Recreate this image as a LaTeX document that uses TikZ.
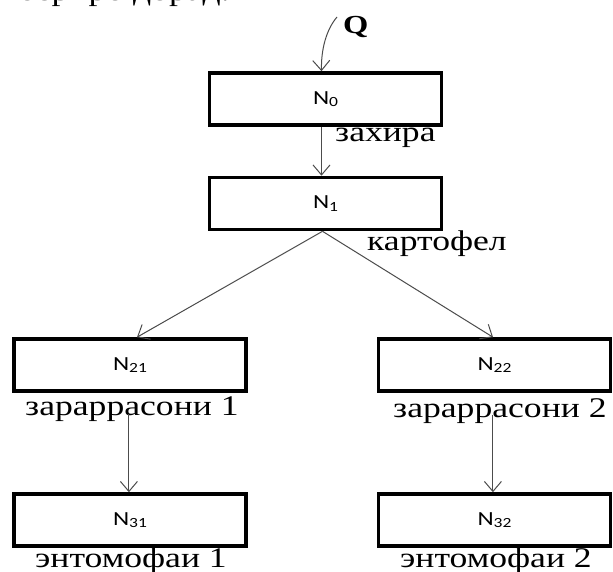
\documentclass[tikz,border=0pt]{standalone}
\usepackage{fontspec}
\setmainfont{Liberation Serif}
\newfontfamily\boxfont{Carlito}
\usetikzlibrary{arrows.meta,calc}
% text in this scheme is set slightly wide
\newcommand{\widetxt}[1]{\scalebox{1.25}[1]{#1}}
\newcommand{\nsub}[2]{\widetxt{#1\raisebox{-2.5pt}{\fontsize{14}{15}\selectfont #2}}}
\begin{document}
\begin{tikzpicture}[x=1pt,y=-1pt,
  stage/.style={draw=black,line width=3.6pt,minimum width=232pt,minimum height=52pt,
    inner sep=0pt,font=\boxfont\fontsize{20}{22}\selectfont},
  lbl/.style={inner sep=0pt,anchor=base west,font=\fontsize{28.5}{30}\selectfont},
  flow/.style={draw=black!70,line width=1pt,-{Straight Barb[length=10pt,width=17pt,line width=1pt]}}]
\clip (0,0) rectangle (613,571);
\fill[white] (0,0) rectangle (613,571);

% line of running text above the scheme
\node[lbl] (prev) at (18,0) {\widetxt{бериро дорад.}};

% input Q
\node[inner sep=0pt,anchor=base west,font=\bfseries\fontsize{26}{28}\selectfont] (q) at (343,33) {\widetxt{Q}};
\coordinate (qstart) at (337,17);

% stages
\node[stage] (n0) at (325.5,99) {\nsub{N}{0}};
\node[stage] (n1) at (325.5,203.5) {\nsub{N}{1}};
\node[stage] (n21) at (130,365) {\nsub{N}{21}};
\node[stage] (n22) at (494.5,365) {\nsub{N}{22}};
\node[stage] (n31) at (130,520) {\nsub{N}{31}};
\node[stage] (n32) at (494.5,520) {\nsub{N}{32}};

% labels
\node[lbl] (l0) at (335,141) {\widetxt{захира}};
\node[lbl] (l1) at (367,250) {\widetxt{картофел}};
\node[lbl] (l21) at (25,415) {\widetxt{зараррасони 1}};
\node[lbl] (l22) at (393,417) {\widetxt{зараррасони 2}};
\node[lbl] (l31) at (35,567) {\widetxt{энтомофаи 1}};
\node[lbl] (l32) at (400,567) {\widetxt{энтомофаи 2}};

% connectors
\draw[flow] (qstart) .. controls (326,30) and (321,50) .. ([xshift=-4pt]n0.north);
\draw[flow] ([xshift=-4pt]n0.south) -- ([xshift=-4pt]n1.north);
\draw[flow] ([xshift=-3pt]n1.south) -- ([xshift=7pt]n21.north);
\draw[flow] ([xshift=-3pt]n1.south) -- ([xshift=-1.5pt]n22.north);
\draw[flow] ([xshift=-3pt,yshift=7pt]l21.south) -- ([xshift=-3pt]l21.south |- n31.north);
\draw[flow] ([xshift=-7pt,yshift=8pt]l22.south) -- ([xshift=-7pt]l22.south |- n32.north);
\end{tikzpicture}
\end{document}
